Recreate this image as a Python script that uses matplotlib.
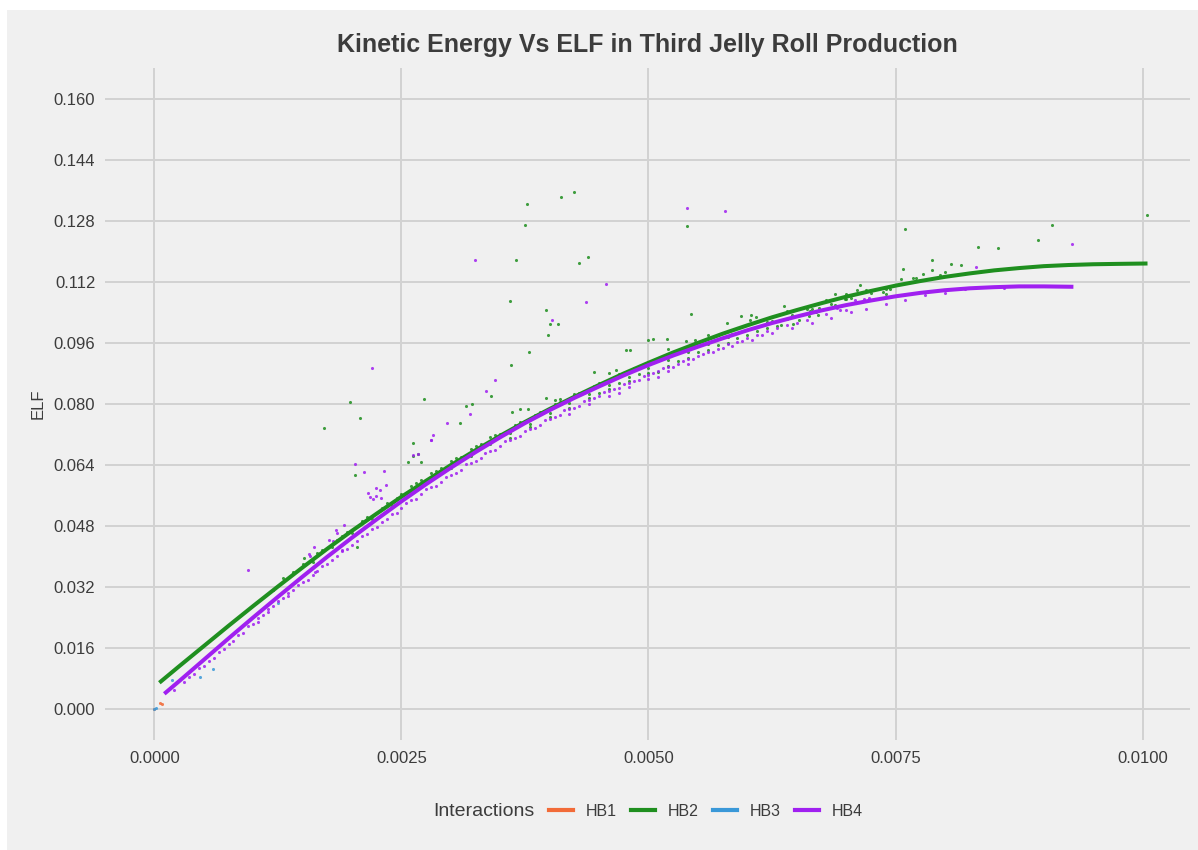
import matplotlib
matplotlib.use("Agg")
import matplotlib.pyplot as plt
from matplotlib.lines import Line2D
from matplotlib.patches import Rectangle
from matplotlib.ticker import FixedLocator, FormatStrFormatter

plt.rcParams['font.family'] = ['Liberation Sans', 'DejaVu Sans']

title = "Kinetic Energy Vs ELF in Third Jelly Roll Production"
series_names = ["HB1", "HB2", "HB3", "HB4"]
series_colors = ["#F26B38", "#1F8F1F", "#3A98D8", "#A020F0"]

x_ticks = [0.0, 0.0025, 0.005, 0.0075, 0.01]
y_ticks = [0.0, 0.016, 0.032, 0.048, 0.064, 0.080, 0.096, 0.112, 0.128, 0.144, 0.160]

# ---- scatter points ----
hb1_x = [0.0, 0.000054, 0.00008]
hb1_y = [0.0, 0.0018, 0.0015]

hb3_x = [0.0, 0.00002, 0.000179, 0.000458, 0.000593, 0.00125]
hb3_y = [0.0002, 0.0004, 0.0077, 0.0086, 0.0105, 0.0279]

hb2_x = [0.003775, 0.004118, 0.004246, 0.003747, 0.003657, 0.0043, 0.004387, 0.003599,
         0.003966, 0.004, 0.004084, 0.003983, 0.003788, 0.003609, 0.003404, 0.003155,
         0.003209, 0.00273, 0.00198, 0.00208, 0.004768, 0.004811, 0.004993, 0.004451,
         0.0046, 0.00467, 0.003785, 0.0037, 0.003623, 0.003966, 0.00405, 0.0041,
         0.00172, 0.00203, 0.002616, 0.002619, 0.002667, 0.002563, 0.002697, 0.002047,
         0.001518, 0.005431, 0.005047, 0.005189, 0.005384, 0.005475, 0.003094, 0.010044,
         0.009088, 0.008946, 0.008337, 0.008532, 0.007596, 0.007869, 0.008061, 0.008165,
         0.007573, 0.007869, 0.00778, 0.008, 0.00795, 0.007556, 0.00768, 0.00771,
         0.007141, 0.007108, 0.006997, 0.006889, 0.006993, 0.006889, 0.00737, 0.0074,
         0.007444, 0.006367, 0.00673, 0.00672, 0.00662, 0.00663, 0.006519, 0.006461,
         0.005795, 0.005939, 0.006037, 0.00603, 0.006084, 0.0063, 0.00634, 0.00539,
         0.0012, 0.0014, 0.0016, 0.0017, 0.0018, 0.0019, 0.0020, 0.0021, 0.0022, 0.0023,
         0.0024, 0.0025, 0.0026, 0.0027, 0.0028, 0.0029, 0.0030, 0.0031, 0.0032, 0.0033,
         0.0034, 0.0035, 0.0036, 0.0037, 0.0038, 0.0039, 0.0040, 0.0041, 0.0042, 0.0043,
         0.0044, 0.0045, 0.0046, 0.0047, 0.0048, 0.0049, 0.0050, 0.0051, 0.0052, 0.0053,
         0.0054, 0.0055, 0.0056, 0.0057, 0.0058, 0.0059, 0.0060, 0.0062, 0.0064, 0.0066,
         0.0068, 0.0070, 0.0072, 0.0074,
         0.0042, 0.0044, 0.0046, 0.0048, 0.0050, 0.0051, 0.0052, 0.0053, 0.0054, 0.0055,
         0.0056, 0.0057, 0.0058, 0.0059, 0.0060, 0.0061, 0.0062, 0.0064, 0.0036, 0.0038,
         0.0040, 0.0045, 0.0047, 0.0049, 0.0026, 0.0028, 0.0030, 0.0032, 0.0034, 0.0052,
         0.0056,
         0.0013, 0.0015, 0.00165, 0.00185, 0.00195, 0.00215, 0.00235, 0.00245, 0.00265,
         0.00285, 0.00305, 0.00325, 0.00345, 0.00365, 0.00385, 0.00405, 0.00425, 0.00445,
         0.00465, 0.00485, 0.00505, 0.00525, 0.00545, 0.00565, 0.00585, 0.00605, 0.00625,
         0.00645, 0.00665, 0.00685, 0.00705, 0.00725, 0.0071, 0.0069, 0.0067]
hb2_y = [0.1325, 0.1342, 0.1355, 0.1270, 0.1178, 0.1170, 0.1184, 0.1070,
         0.1045, 0.1009, 0.1009, 0.0982, 0.0937, 0.0902, 0.0822, 0.0795,
         0.0800, 0.0814, 0.0804, 0.0763, 0.0941, 0.0941, 0.0967, 0.0884,
         0.0880, 0.0890, 0.0786, 0.0786, 0.0780, 0.0816, 0.0810, 0.0812,
         0.0736, 0.0615, 0.0698, 0.0664, 0.0669, 0.0649, 0.0649, 0.0425,
         0.0397, 0.1036, 0.0969, 0.0971, 0.0966, 0.0967, 0.0749, 0.1294,
         0.1268, 0.1229, 0.1210, 0.1209, 0.1259, 0.1178, 0.1167, 0.1165,
         0.1154, 0.1151, 0.1140, 0.1145, 0.1139, 0.1127, 0.1129, 0.1129,
         0.1112, 0.1098, 0.1089, 0.1087, 0.1075, 0.1060, 0.1094, 0.1087,
         0.1102, 0.1056, 0.1051, 0.1032, 0.1030, 0.1043, 0.1021, 0.1010,
         0.1011, 0.1030, 0.1034, 0.1021, 0.1027, 0.1004, 0.1006, 0.1267,
         0.0312, 0.0360, 0.0386, 0.0418, 0.0425, 0.0455, 0.0462, 0.0494, 0.0498, 0.0528,
         0.0532, 0.0565, 0.0569, 0.0600, 0.0603, 0.0633, 0.0632, 0.0662, 0.0665, 0.0694,
         0.0694, 0.0722, 0.0724, 0.0752, 0.0748, 0.0779, 0.0776, 0.0806, 0.0803, 0.0830,
         0.0826, 0.0855, 0.0849, 0.0878, 0.0872, 0.0900, 0.0893, 0.0921, 0.0915, 0.0942,
         0.0936, 0.0962, 0.0956, 0.0981, 0.0975, 0.0999, 0.0993, 0.1015, 0.1043, 0.1048,
         0.1072, 0.1076, 0.1098, 0.1101,
         0.0790, 0.0815, 0.0838, 0.0860, 0.0880, 0.0885, 0.0900, 0.0912, 0.0920, 0.0935,
         0.0942, 0.0955, 0.0960, 0.0972, 0.0980, 0.0990, 0.1000, 0.1022, 0.0712, 0.0740,
         0.0765, 0.0830, 0.0855, 0.0878, 0.0585, 0.0618, 0.0650, 0.0683, 0.0714, 0.0945,
         0.0980,
         0.0345, 0.0380, 0.0410, 0.0445, 0.0465, 0.0505, 0.0540, 0.0555, 0.0592,
         0.0625, 0.0658, 0.0690, 0.0718, 0.0745, 0.0772, 0.0800, 0.0825, 0.0848,
         0.0872, 0.0893, 0.0912, 0.0932, 0.0950, 0.0966, 0.0984, 0.1000, 0.1018,
         0.1033, 0.1050, 0.1062, 0.1078, 0.1090, 0.1065, 0.1055, 0.1040]

hb4_x = [0.003242, 0.004566, 0.004364, 0.004024, 0.003451, 0.003357, 0.003189, 0.0022,
         0.000946, 0.00203, 0.00212, 0.00232, 0.00234, 0.002158, 0.002179, 0.002209,
         0.002239, 0.002283, 0.00229, 0.002242, 0.0028, 0.001838, 0.001845, 0.001916,
         0.001771, 0.001811, 0.001899, 0.001613, 0.001563, 0.001579, 0.001626, 0.002957,
         0.002818, 0.002798, 0.002619, 0.00267, 0.00577, 0.009286, 0.008316, 0.007236,
         0.007185, 0.007091, 0.006906, 0.00694, 0.00539,
         0.0002, 0.0003, 0.00035, 0.0004, 0.00045, 0.0005, 0.00055, 0.0006, 0.00065, 0.0007,
         0.00075, 0.0008, 0.00085, 0.0009, 0.00095, 0.001, 0.00105, 0.0011, 0.00115, 0.0012,
         0.00125, 0.0013, 0.00135, 0.0014, 0.00145, 0.0015, 0.0016, 0.0017, 0.0018, 0.0019,
         0.002, 0.0021, 0.0022, 0.0023, 0.0024, 0.0025, 0.0026, 0.0027, 0.0028, 0.0029,
         0.003, 0.0031, 0.0032, 0.0033, 0.0034, 0.0035, 0.0036, 0.0037, 0.0038, 0.0039,
         0.004, 0.0041, 0.0042, 0.0043, 0.0044, 0.0045, 0.0046, 0.0047, 0.0048, 0.0049,
         0.005, 0.0051, 0.0052, 0.0053, 0.0054, 0.0055, 0.0056, 0.0057, 0.0058, 0.0059,
         0.006, 0.0061, 0.0062, 0.0063, 0.0064, 0.0065, 0.0066, 0.0068, 0.007,
         0.00255, 0.00275, 0.00295, 0.00315, 0.00335, 0.00355, 0.00375, 0.00395, 0.00415,
         0.00435, 0.00455, 0.00475, 0.00495, 0.00515, 0.00535, 0.00555, 0.00575, 0.00595,
         0.00615, 0.0042, 0.0044, 0.0046, 0.0048, 0.005, 0.0052, 0.0054, 0.0047, 0.0051,
         0.00105, 0.00115, 0.00135, 0.00155, 0.00165, 0.00175, 0.00185, 0.00195, 0.00205,
         0.00215, 0.00225, 0.00235, 0.00245, 0.00265, 0.00285, 0.00305, 0.00325, 0.00345,
         0.00365, 0.00385, 0.00405, 0.00425, 0.00445, 0.00465, 0.00485, 0.00505, 0.00525,
         0.00545, 0.00565, 0.00585, 0.00605, 0.00625, 0.00645, 0.00665, 0.00685, 0.00705,
         0.0072, 0.0074, 0.0076, 0.0078, 0.0080, 0.0082, 0.0086, 0.0088]
hb4_y = [0.1178, 0.1115, 0.1068, 0.1021, 0.0864, 0.0834, 0.0775, 0.0895,
         0.0365, 0.0642, 0.0621, 0.0625, 0.0588, 0.0567, 0.0557, 0.0551,
         0.0579, 0.0576, 0.0553, 0.0559, 0.0707, 0.0471, 0.0461, 0.0482,
         0.0445, 0.0442, 0.0417, 0.0426, 0.0408, 0.0403, 0.0361, 0.0749,
         0.0720, 0.0707, 0.0666, 0.0669, 0.1305, 0.1218, 0.1158, 0.1078,
         0.1074, 0.1072, 0.1052, 0.1047, 0.1314,
         0.0050, 0.0072, 0.0085, 0.0093, 0.0108, 0.0115, 0.0128, 0.0135, 0.0150, 0.0158,
         0.0172, 0.0180, 0.0195, 0.0200, 0.0218, 0.0225, 0.0240, 0.0248, 0.0262, 0.0270,
         0.0283, 0.0292, 0.0305, 0.0312, 0.0327, 0.0335, 0.0352, 0.0375, 0.0392, 0.0415,
         0.0432, 0.0455, 0.0472, 0.0492, 0.0512, 0.0528, 0.0548, 0.0563, 0.0582, 0.0596,
         0.0614, 0.0628, 0.0646, 0.0658, 0.0676, 0.0690, 0.0706, 0.0716, 0.0734, 0.0745,
         0.0760, 0.0772, 0.0786, 0.0796, 0.0810, 0.0820, 0.0833, 0.0842, 0.0856, 0.0864,
         0.0877, 0.0886, 0.0898, 0.0906, 0.0918, 0.0926, 0.0937, 0.0945, 0.0956, 0.0963,
         0.0974, 0.0981, 0.0990, 0.0998, 0.1006, 0.1013, 0.1020, 0.1035, 0.1046,
         0.0540, 0.0577, 0.0610, 0.0642, 0.0672, 0.0702, 0.0730, 0.0757, 0.0783,
         0.0808, 0.0831, 0.0852, 0.0874, 0.0893, 0.0912, 0.0930, 0.0947, 0.0964,
         0.0980, 0.0775, 0.0800, 0.0822, 0.0845, 0.0866, 0.0887, 0.0905, 0.0830, 0.0872,
         0.0230, 0.0255, 0.0298, 0.0340, 0.0362, 0.0380, 0.0402, 0.0420, 0.0440,
         0.0460, 0.0478, 0.0498, 0.0515, 0.0550, 0.0585, 0.0620, 0.0650, 0.0680,
         0.0710, 0.0738, 0.0765, 0.0790, 0.0815, 0.0838, 0.0860, 0.0880, 0.0898,
         0.0918, 0.0936, 0.0952, 0.0968, 0.0985, 0.0998, 0.1012, 0.1025, 0.1040,
         0.1050, 0.1062, 0.1072, 0.1085, 0.1092, 0.1100, 0.1105, 0.1110]

# ---- smoothed trend lines ----
hb2_fit_x = [0.00005, 0.00025, 0.0005, 0.00075, 0.001, 0.00125, 0.0015, 0.00175, 0.002,
             0.00225, 0.0025, 0.00275, 0.003, 0.00325, 0.0035, 0.00375, 0.004, 0.00425,
             0.0045, 0.00475, 0.005, 0.00525, 0.0055, 0.00575, 0.006, 0.00625, 0.0065,
             0.00675, 0.007, 0.00725, 0.0075, 0.00775, 0.008, 0.00825, 0.0085, 0.00875,
             0.009, 0.00925, 0.0095, 0.00975, 0.01005]
hb2_fit_y = [0.0070, 0.0113, 0.0166, 0.0219, 0.0271, 0.0322, 0.0372, 0.0421, 0.0468,
             0.0513, 0.0557, 0.0599, 0.0640, 0.0679, 0.0717, 0.0753, 0.0787, 0.0819,
             0.0850, 0.0880, 0.0908, 0.0935, 0.0960, 0.0984, 0.1006, 0.1027, 0.1046,
             0.1064, 0.1081, 0.1096, 0.1110, 0.1122, 0.1133, 0.1142, 0.1150, 0.1156,
             0.1161, 0.1164, 0.1166, 0.1167, 0.1168]

hb4_fit_x = [0.0001, 0.00025, 0.0005, 0.00075, 0.001, 0.00125, 0.0015, 0.00175, 0.002,
             0.00225, 0.0025, 0.00275, 0.003, 0.00325, 0.0035, 0.00375, 0.004, 0.00425,
             0.0045, 0.00475, 0.005, 0.00525, 0.0055, 0.00575, 0.006, 0.00625, 0.0065,
             0.00675, 0.007, 0.00725, 0.0075, 0.00775, 0.008, 0.00825, 0.0085, 0.00875,
             0.009, 0.0093]
hb4_fit_y = [0.0041, 0.0074, 0.0130, 0.0186, 0.0241, 0.0295, 0.0348, 0.0400, 0.0450,
             0.0498, 0.0545, 0.0590, 0.0633, 0.0674, 0.0713, 0.0750, 0.0784, 0.0816,
             0.0846, 0.0875, 0.0902, 0.0927, 0.0950, 0.0972, 0.0993, 0.1012, 0.1029,
             0.1045, 0.1059, 0.1071, 0.1082, 0.1091, 0.1098, 0.1103, 0.1106, 0.1108,
             0.1108, 0.1107]

# ---- figure ----
W, H = 1198, 850
fig = plt.figure(figsize=(W / 100, H / 100), dpi=100, facecolor="white")
bg = "#F0F0F0"
fig.patches.append(Rectangle((7 / W, 0), 1 - 7 / W, 1 - 10 / H, transform=fig.transFigure,
                             facecolor=bg, edgecolor="none", zorder=-10))

ax = fig.add_axes([105 / W, 1 - 740 / H, (1190 - 105) / W, (740 - 68) / H])
ax.set_facecolor(bg)
for s in ax.spines.values():
    s.set_visible(False)

ax.set_xlim(-0.0005, 0.01048)
ax.set_ylim(-0.008, 0.168)
ax.xaxis.set_major_locator(FixedLocator(x_ticks))
ax.yaxis.set_major_locator(FixedLocator(y_ticks))
ax.xaxis.set_major_formatter(FormatStrFormatter("%.4f"))
ax.yaxis.set_major_formatter(FormatStrFormatter("%.3f"))
ax.tick_params(axis="both", length=0, labelsize=12, labelcolor="#3C3C3C")
ax.tick_params(axis="y", pad=7)
ax.tick_params(axis="x", pad=8)
ax.grid(True, color="#D2D2D2", linewidth=1.4)
ax.set_axisbelow(True)

pts = [(hb1_x, hb1_y), (hb2_x, hb2_y), (hb3_x, hb3_y), (hb4_x, hb4_y)]
for (px, py), c in zip(pts, series_colors):
    ax.scatter(px, py, s=5, color=c, alpha=0.85, linewidths=0, zorder=2)

ax.plot(hb2_fit_x, hb2_fit_y, color=series_colors[1], linewidth=2.9,
        solid_capstyle="butt", solid_joinstyle="round", zorder=3)
ax.plot(hb4_fit_x, hb4_fit_y, color=series_colors[3], linewidth=2.9,
        solid_capstyle="butt", solid_joinstyle="round", zorder=4)

ax.set_ylabel("ELF", fontsize=12, color="#3C3C3C")
ax.yaxis.set_label_coords((46 - 105) / (1190 - 105), 0.5)

fig.text(647.5 / W, 1 - 45 / H, title, ha="center", va="center", fontsize=18,
         fontweight="bold", color="#3C3C3C")

fig.text(433 / W, 1 - 811 / H, "Interactions", ha="left", va="center", fontsize=14,
         color="#3C3C3C")
handles = [Line2D([], [], color=c, linewidth=3) for c in series_colors]
fig.legend(handles, series_names, loc="center left", bbox_to_anchor=(549 / W, 1 - 811 / H),
           ncol=4, frameon=False, fontsize=11.5, handlelength=1.5, handletextpad=0.8,
           columnspacing=0.9, borderpad=0, borderaxespad=0, labelcolor="#3C3C3C")

fig.savefig("out.png", dpi=100, facecolor="white")
